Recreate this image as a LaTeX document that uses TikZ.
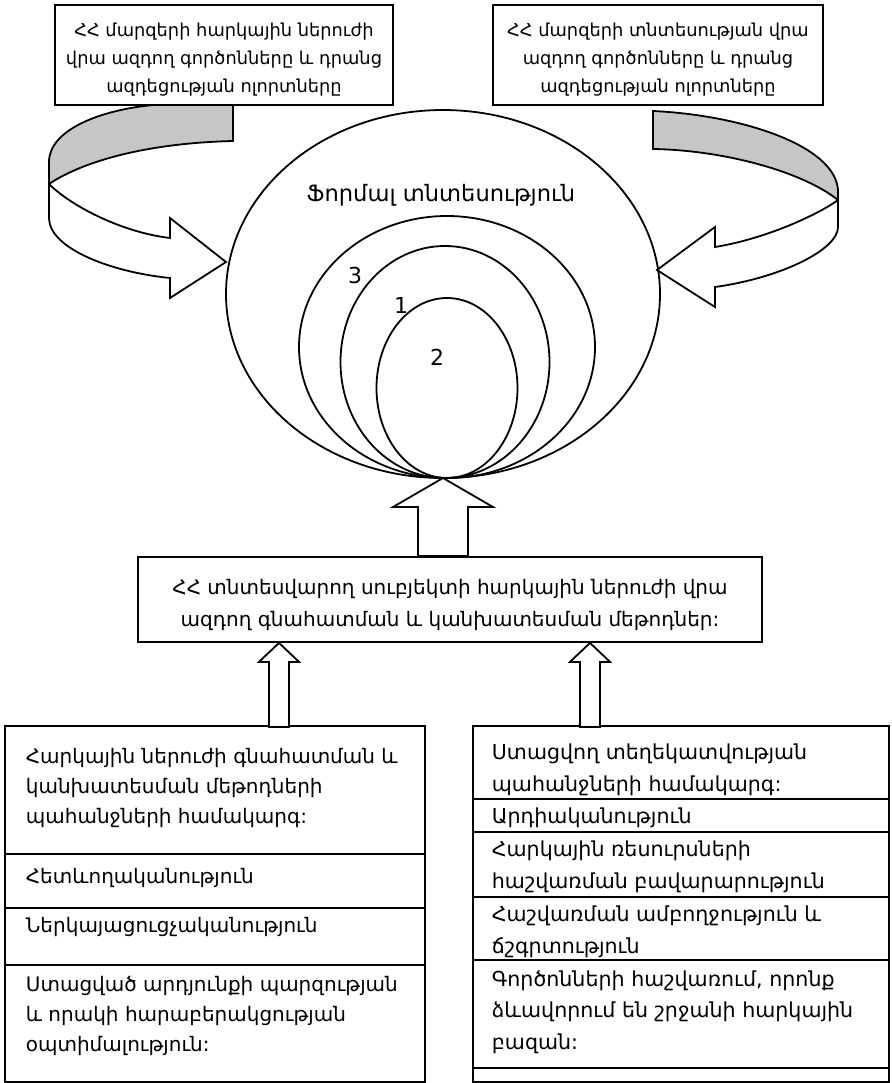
\documentclass[tikz,border=0pt]{standalone}
\usepackage{fontspec}
\setmainfont{DejaVu Sans}
\usetikzlibrary{positioning,shapes.geometric}
\newcommand\padtop[1]{\rule{0pt}{#1}}

\begin{document}
\begin{tikzpicture}[x=0.5pt,y=-0.5pt,line width=0.9pt,
    box/.style={draw,align=center,inner sep=0pt},
    ring/.style={draw,ellipse,inner sep=0pt,outer sep=0pt},
    lrow/.style={draw,minimum width=210pt,inner sep=0pt,outer sep=0pt},
    rrow/.style={draw,minimum width=208pt,inner sep=0pt,outer sep=0pt},
    ltext/.style={align=left,inner sep=0pt,anchor=base west,font=\fontsize{10}{15}\selectfont},
    rtext/.style={align=left,inner sep=0pt,anchor=base west,font=\fontsize{10.3}{15.75}\selectfont},
    hollow/.style={draw,fill=white,line join=miter},
    band/.style={draw,fill=gray!45}]
\useasboundingbox (0,0) rectangle (892,1083);

\draw[band] (153,105) .. controls (100,110) and (49,130) .. (49,162) -- (49,184) .. controls (85,160) and (150,143) .. (233,141) -- (233,105) -- cycle;
\draw[hollow] (49,184) .. controls (70,205) and (120,232) .. (170,238) -- (170,218) -- (226,262) -- (170,298) -- (170,278) .. controls (110,272) and (49,248) .. (49,218) -- cycle;

\draw[band] (653,111) .. controls (740,115) and (835,145) .. (838,190) -- (838,200) .. controls (800,170) and (720,150) .. (653,149) -- cycle;
\draw[hollow] (838,200) .. controls (822,212) and (770,238) .. (715,247) -- (715,227) -- (657,270) -- (715,307) -- (715,287) .. controls (780,278) and (838,250) .. (838,227) -- cycle;

\node[box,minimum width=169pt,minimum height=50pt,font=\fontsize{8.9}{14}\selectfont] (TL) at (224,55)
    {\padtop{11.8pt}ՀՀ մարզերի հարկային ներուժի\\վրա ազդող գործոնները և դրանց\\ազդեցության ոլորտները};
\node[box,minimum width=165pt,minimum height=50pt,font=\fontsize{8.9}{14}\selectfont] (TR) at (658,55)
    {\padtop{11.8pt}ՀՀ մարզերի տնտեսության վրա\\ազդող գործոնները և դրանց\\ազդեցության ոլորտները};

\node[ring,minimum width=217pt,minimum height=184pt] (E0) at (443,294) {};
\node[ring,minimum width=148pt,minimum height=131pt] (E3) at (447,347) {};
\node[ring,minimum width=104.5pt,minimum height=116pt] (E1) at (445,362) {};
\node[ring,minimum width=70.5pt,minimum height=90pt] (E2) at (447,388) {};
\node[font=\fontsize{11.3}{13}\selectfont] (F) at (441,195) {Ֆորմալ տնտեսություն};
\node[font=\fontsize{11}{13}\selectfont] (N3) at (355,275) {3};
\node[font=\fontsize{11}{13}\selectfont] (N1) at (401,305) {1};
\node[font=\fontsize{11}{13}\selectfont] (N2) at (437,357) {2};

\node[box,minimum width=312pt,minimum height=42.5pt,font=\fontsize{10}{16}\selectfont] (M) at (450,599.5)
    {\padtop{12.6pt}ՀՀ տնտեսվարող սուբյեկտի հարկային ներուժի վրա\\ազդող գնահատման և կանխատեսման մեթոդներ:};
\draw[hollow] (E0.south) -- ++(50,29) -- ++(-25,0) -- ++(0,49) -- ++(-50,0) -- ++(0,-49) -- ++(-25,0) -- cycle;

\node[lrow,minimum height=64pt,anchor=north west] (L1) at (5,726) {};
\node[lrow,minimum height=27pt,below=0pt of L1] (L2) {};
\node[lrow,minimum height=28.5pt,below=0pt of L2] (L3) {};
\node[lrow,minimum height=58.5pt,below=0pt of L3] (L4) {};
\node[ltext] (L1t) at ([shift={(20,97)}]L1.north west)
    {Հարկային ներուժի գնահատման և\\կանխատեսման մեթոդների\\պահանջների համակարգ:};
\node[ltext] (L2t) at ([shift={(20,29)}]L2.north west) {Հետևողականություն};
\node[ltext] (L3t) at ([shift={(20,24)}]L3.north west) {Ներկայացուցչականություն};
\node[ltext] (L4t) at ([shift={(20,86)}]L4.north west)
    {Ստացված արդյունքի պարզության\\և որակի հարաբերակցության\\օպտիմալություն:};

\node[rrow,minimum height=36.5pt,anchor=north west] (R1) at (473,726) {};
\node[rrow,minimum height=16.5pt,below=0pt of R1] (R2) {};
\node[rrow,minimum height=32.5pt,below=0pt of R2] (R3) {};
\node[rrow,minimum height=31.5pt,below=0pt of R3] (R4) {};
\node[rrow,minimum height=54pt,below=0pt of R4] (R5) {};
\node[rrow,minimum height=7pt,below=0pt of R5] (R6) {};
\node[rtext] (R1t) at ([shift={(18,65)}]R1.north west) {Ստացվող տեղեկատվության\\պահանջների համակարգ:};
\node[rtext] (R2t) at ([shift={(18,24.5)}]R2.north west) {Արդիականություն};
\node[rtext] (R3t) at ([shift={(18,56)}]R3.north west) {Հարկային ռեսուրսների\\հաշվառման բավարարություն};
\node[rtext] (R4t) at ([shift={(18,56)}]R4.north west) {Հաշվառման ամբողջություն և\\ճշգրտություն};
\node[rtext] (R5t) at ([shift={(18,89)}]R5.north west)
    {Գործոնների հաշվառում, որոնք\\ձևավորում են շրջանի հարկային\\բազան:};

\draw[hollow] (M.south -| 279,0) -- ++(20,19) -- ++(-10,0) -- ++(0,65) -- ++(-20,0) -- ++(0,-65) -- ++(-10,0) -- cycle;
\draw[hollow] (M.south -| 590,0) -- ++(20,19) -- ++(-10,0) -- ++(0,65) -- ++(-20,0) -- ++(0,-65) -- ++(-10,0) -- cycle;
\end{tikzpicture}
\end{document}
